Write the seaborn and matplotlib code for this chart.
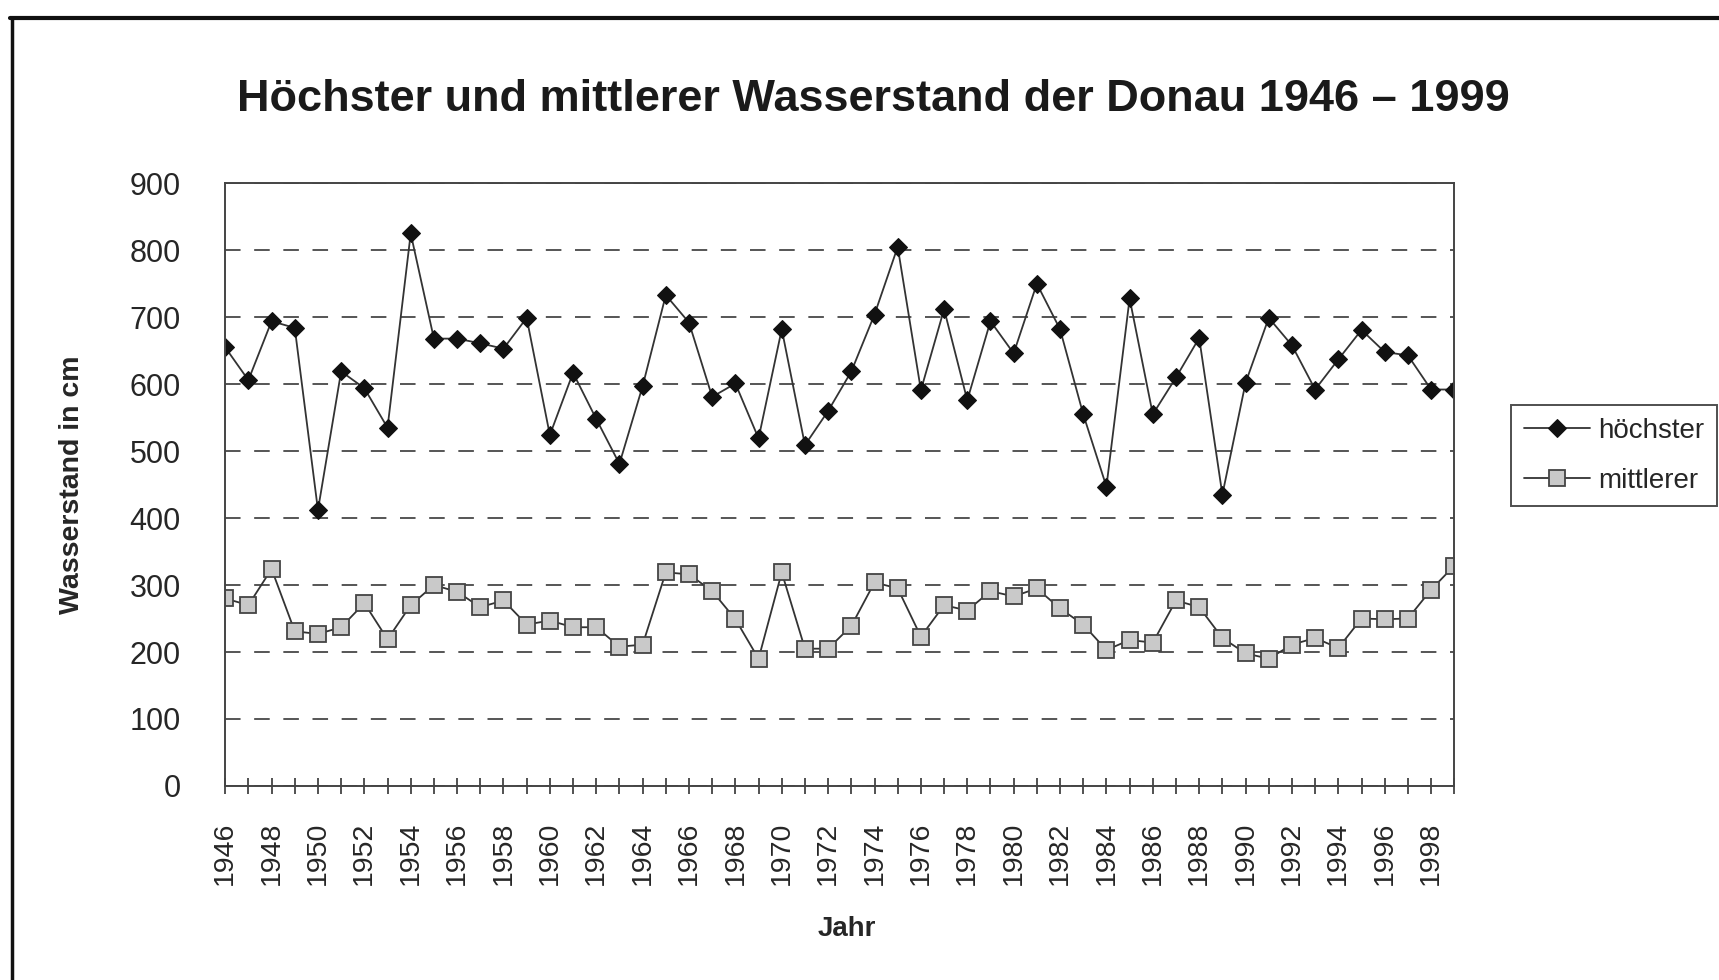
import numpy as np
import pandas as pd
import seaborn as sns
import matplotlib.pyplot as plt
from matplotlib.lines import Line2D

# ----------- Data -----------

years = list(range(1946, 2000))

hoechster = [655, 606, 694, 684, 412, 619, 594, 535, 825, 668,
             668, 661, 653, 699, 524, 617, 548, 481, 597, 733,
             692, 581, 601, 519, 682, 509, 560, 619, 704, 805,
             591, 712, 576, 694, 646, 750, 682, 555, 447, 728,
             555, 610, 669, 435, 602, 699, 658, 592, 637, 681,
             648, 643, 592, 592]

mittlerer = [280, 270, 324, 231, 227, 237, 273, 219, 270, 300,
             290, 267, 277, 241, 247, 237, 237, 208, 211, 319,
             316, 291, 249, 190, 319, 205, 205, 239, 304, 295,
             223, 270, 262, 291, 283, 295, 265, 241, 203, 218,
             214, 277, 267, 221, 198, 190, 211, 221, 206, 250,
             249, 250, 293, 329]

y_ticks = [0, 100, 200, 300, 400, 500, 600, 700, 800, 900]
x_labels = [str(y) if y % 2 == 0 else "" for y in years]

df = pd.DataFrame({"Jahr": years, "höchster": hoechster, "mittlerer": mittlerer})

# ----------- Style -----------

sns.set_theme(style="white")
plt.rcParams["font.family"] = ["Liberation Sans", "DejaVu Sans"]

fig = plt.figure(figsize=(17.19, 9.80), dpi=100)
ax = fig.add_axes([0.131, 0.198, 0.715, 0.615])

sns.lineplot(data=df, x="Jahr", y="höchster", ax=ax, color="#333333", lw=1.3,
             marker="D", markersize=9.5, markerfacecolor="#111111",
             markeredgecolor="#111111", label="höchster")
sns.lineplot(data=df, x="Jahr", y="mittlerer", ax=ax, color="#333333", lw=1.3,
             marker="s", markersize=12, markerfacecolor="#c9c9c9",
             markeredgecolor="#444444", markeredgewidth=1.3, label="mittlerer")

ax.set_xlim(1946, 1999)
ax.set_ylim(0, 900)
ax.set_yticks(y_ticks)
ax.set_xticks(years)
ax.set_xticklabels(x_labels, rotation=90)
ax.tick_params(axis="x", direction="inout", length=12, width=1.2, color="#333333",
               labelsize=20.5, pad=20, bottom=True)
ax.tick_params(axis="y", direction="out", length=0, labelsize=22, pad=32)

ax.yaxis.grid(True, linestyle=(0, (8, 7)), color="#555555", lw=1.4)
ax.xaxis.grid(False)
for s in ax.spines.values():
    s.set_visible(True)
    s.set_color("#444444")
    s.set_linewidth(1.4)

ax.set_xlabel("Jahr", fontsize=20, fontweight="bold", labelpad=26)
ax.xaxis.set_label_coords(0.506, -0.215)
ax.set_ylabel("Wasserstand in cm", fontsize=20.5, fontweight="bold", labelpad=32)

fig.text(0.508, 0.898, "Höchster und mittlerer Wasserstand der Donau 1946 – 1999",
         ha="center", va="center", fontsize=32.5, fontweight="bold", color="#1a1a1a")

leg = ax.legend(loc="center left", bbox_to_anchor=(0.879, 0.535),
                bbox_transform=fig.transFigure, fontsize=20, frameon=True,
                fancybox=False, handlelength=2.4, handletextpad=0.3,
                borderpad=0.45, labelspacing=0.85, borderaxespad=0)
leg.get_frame().set_edgecolor("#222222")
leg.get_frame().set_linewidth(1.4)

# outer frame (top and left edges visible in the scan)
fig.add_artist(Line2D([0.006, 1.0], [0.982, 0.982], transform=fig.transFigure,
                      color="#111111", lw=3))
fig.add_artist(Line2D([0.007, 0.007], [0.0, 0.982], transform=fig.transFigure,
                      color="#111111", lw=2.5))

fig.savefig("out.png", dpi=100)
plt.close(fig)
